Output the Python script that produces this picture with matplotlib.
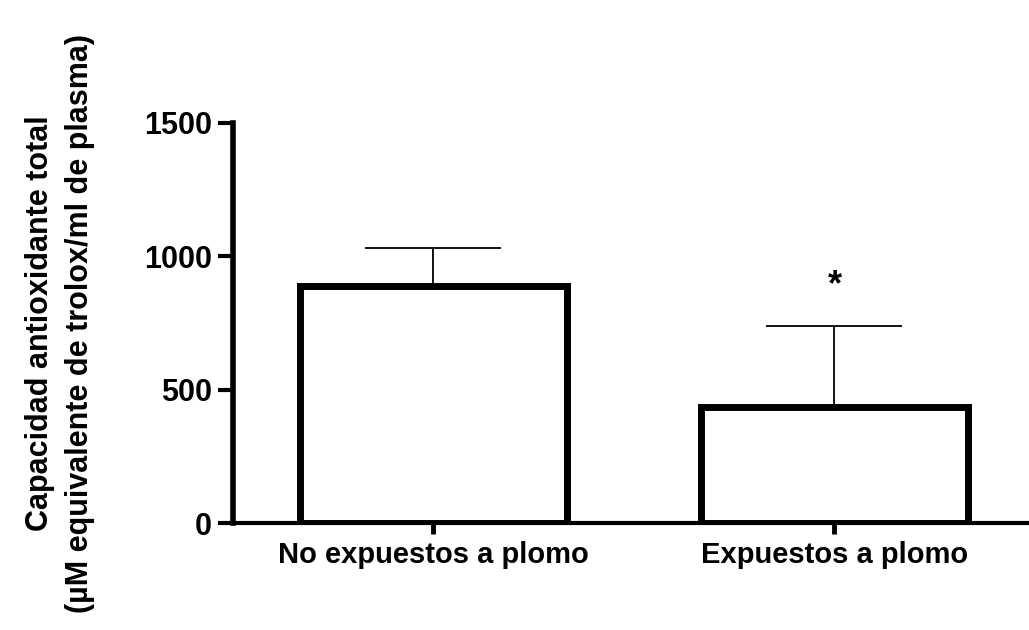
import matplotlib
matplotlib.use('Agg')
import matplotlib.pyplot as plt

# datos
grupos = ['No expuestos a plomo', 'Expuestos a plomo']
medias = [889, 435]
de_sup = [142, 304]   # solo barra de error superior
marcas = ['', '*']

plt.rcParams['font.family'] = ['Liberation Sans', 'DejaVu Sans']

fig = plt.figure(figsize=(10.29, 6.30), dpi=100)
ax = fig.add_axes([0.2264, 0.1698, 0.7794, 0.635])

x = range(len(grupos))
ax.bar(x, medias, width=0.667, color='white', edgecolor='black',
       linewidth=5, zorder=3)
ax.errorbar(x, medias, yerr=[[0, 0], de_sup], fmt='none', ecolor='black',
            elinewidth=1.3, capsize=49, capthick=1.3, zorder=2)
for xi, m, e, s in zip(x, medias, de_sup, marcas):
    if s:
        ax.text(xi, m + e + 150, s, ha='center', va='center',
                fontsize=26, fontweight='bold')

ax.set_xlim(-0.5, 1.5)
ax.set_ylim(0, 1500)
ax.set_yticks([0, 500, 1000, 1500])
ax.set_xticks(list(x))
ax.set_xticklabels(grupos, fontsize=21, fontweight='bold')
for lab in ax.get_yticklabels():
    lab.set_fontsize(22)
    lab.set_fontweight('bold')

ax.spines['top'].set_visible(False)
ax.spines['right'].set_visible(False)
ax.spines['left'].set_linewidth(4)
ax.spines['bottom'].set_linewidth(3)
ax.spines['bottom'].set_zorder(4)
ax.tick_params(axis='y', length=11, width=3, pad=4)
ax.tick_params(axis='x', length=8, width=3.5, pad=5)

ax.set_ylabel('Capacidad antioxidante total\n(µM equivalente de trolox/ml de plasma)',
              fontsize=22, fontweight='bold', linespacing=1.45)
ax.yaxis.set_label_coords(-0.172, 0.5)

fig.savefig('out.png', dpi=100)
